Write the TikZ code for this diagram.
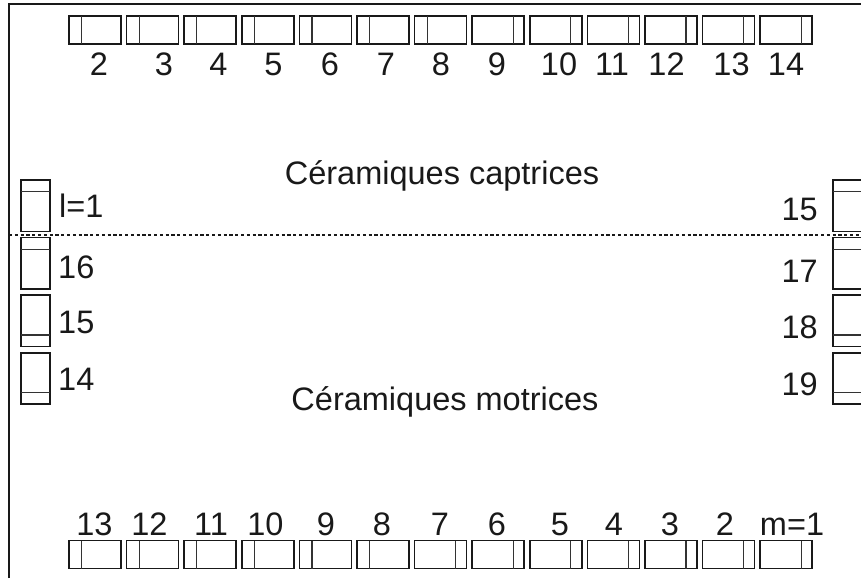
\documentclass[tikz,border=0pt]{standalone}
\usepackage{fontspec}
\setmainfont{Liberation Sans}
\begin{document}
\begin{tikzpicture}[x=1pt,y=-1pt,
  hcell/.style={draw=black!90, line width=1.6pt, rectangle, minimum width=52pt, minimum height=28pt, inner sep=0pt, outer sep=0pt, anchor=north west},
  vcell/.style={draw=black!90, line width=1.6pt, rectangle, minimum width=29.5pt, minimum height=51.5pt, inner sep=0pt, outer sep=0pt, anchor=north west},
  strip/.style={line width=1.2pt, draw=black!80},
  lbl/.style={font=\fontsize{32.5}{32.5}\selectfont, inner sep=0pt, text=black!90},
  frame/.style={line width=1.6pt, draw=black!90},
  sep/.style={line width=1.1pt, draw=black!90, dash pattern=on 3.2pt off 2.6pt}]
\useasboundingbox (0,0) rectangle (861,578);
\clip (0,0) rectangle (861,578);
% frame
\draw[frame] (9,578) -- (9,4) -- (861,4);
% separator
\draw[sep] (9,235) -- (861,235);
% top row of cells
\foreach \i in {0,...,12}{
  \node[hcell] (t\i) at ({69+57.6*\i},16) {};
  \ifnum\i<7
    \draw[strip] ([xshift=12.5pt]t\i.north west) -- ([xshift=12.5pt]t\i.south west);
  \else
    \draw[strip] ([xshift=-11pt]t\i.north east) -- ([xshift=-11pt]t\i.south east);
  \fi
}
% bottom row of cells
\foreach \i in {0,...,12}{
  \node[hcell] (b\i) at ({69+57.6*\i},540.5) {};
  \ifnum\i<6
    \draw[strip] ([xshift=12.5pt]b\i.north west) -- ([xshift=12.5pt]b\i.south west);
  \else
    \draw[strip] ([xshift=-11pt]b\i.north east) -- ([xshift=-11pt]b\i.south east);
  \fi
}
% side cells
\foreach \i/\y in {0/180,1/237.5,2/295,3/352.7}{
  \node[vcell] (l\i) at (20.7,\y) {};
  \node[vcell] (r\i) at (833,\y) {};
  \ifnum\i<2
    \draw[strip] ([yshift=-11.7pt]l\i.north west) -- ([yshift=-11.7pt]l\i.north east);
    \draw[strip] ([yshift=-11.7pt]r\i.north west) -- ([yshift=-11.7pt]r\i.north east);
  \else
    \draw[strip] ([yshift=11.5pt]l\i.south west) -- ([yshift=11.5pt]l\i.south east);
    \draw[strip] ([yshift=11.5pt]r\i.south west) -- ([yshift=11.5pt]r\i.south east);
  \fi
}
% top labels
\foreach \t/\x [count=\k] in {2/99,3/164,4/218.5,5/273.5,6/330,7/386,8/441,9/497,10/559,11/612,12/666.5,13/731.5,14/786}{
  \node[lbl, anchor=base] (tl\k) at (\x,75) {\t};
}
% bottom labels
\foreach \t/\x [count=\k] in {13/94.5,12/149.5,11/211,10/265.5,9/326,8/382,7/440,6/497,5/560,4/614,3/670,2/725,m=1/792}{
  \node[lbl, anchor=base] (bl\k) at (\x,535) {\t};
}
% left labels
\node[lbl, anchor=base west] (ll0) at (59,217) {l=1};
\node[lbl, anchor=base west] (ll1) at (58,278) {16};
\node[lbl, anchor=base west] (ll2) at (58,333) {15};
\node[lbl, anchor=base west] (ll3) at (58,390) {14};
% right labels
\node[lbl, anchor=base east] (rl0) at (818,220) {15};
\node[lbl, anchor=base east] (rl1) at (818,282) {17};
\node[lbl, anchor=base east] (rl2) at (818,338) {18};
\node[lbl, anchor=base east] (rl3) at (818,395) {19};
% titles
\node[lbl, anchor=base] (capt) at (442,184) {Céramiques captrices};
\node[lbl, anchor=base] (mot) at (445,410) {Céramiques motrices};
\end{tikzpicture}
\end{document}
